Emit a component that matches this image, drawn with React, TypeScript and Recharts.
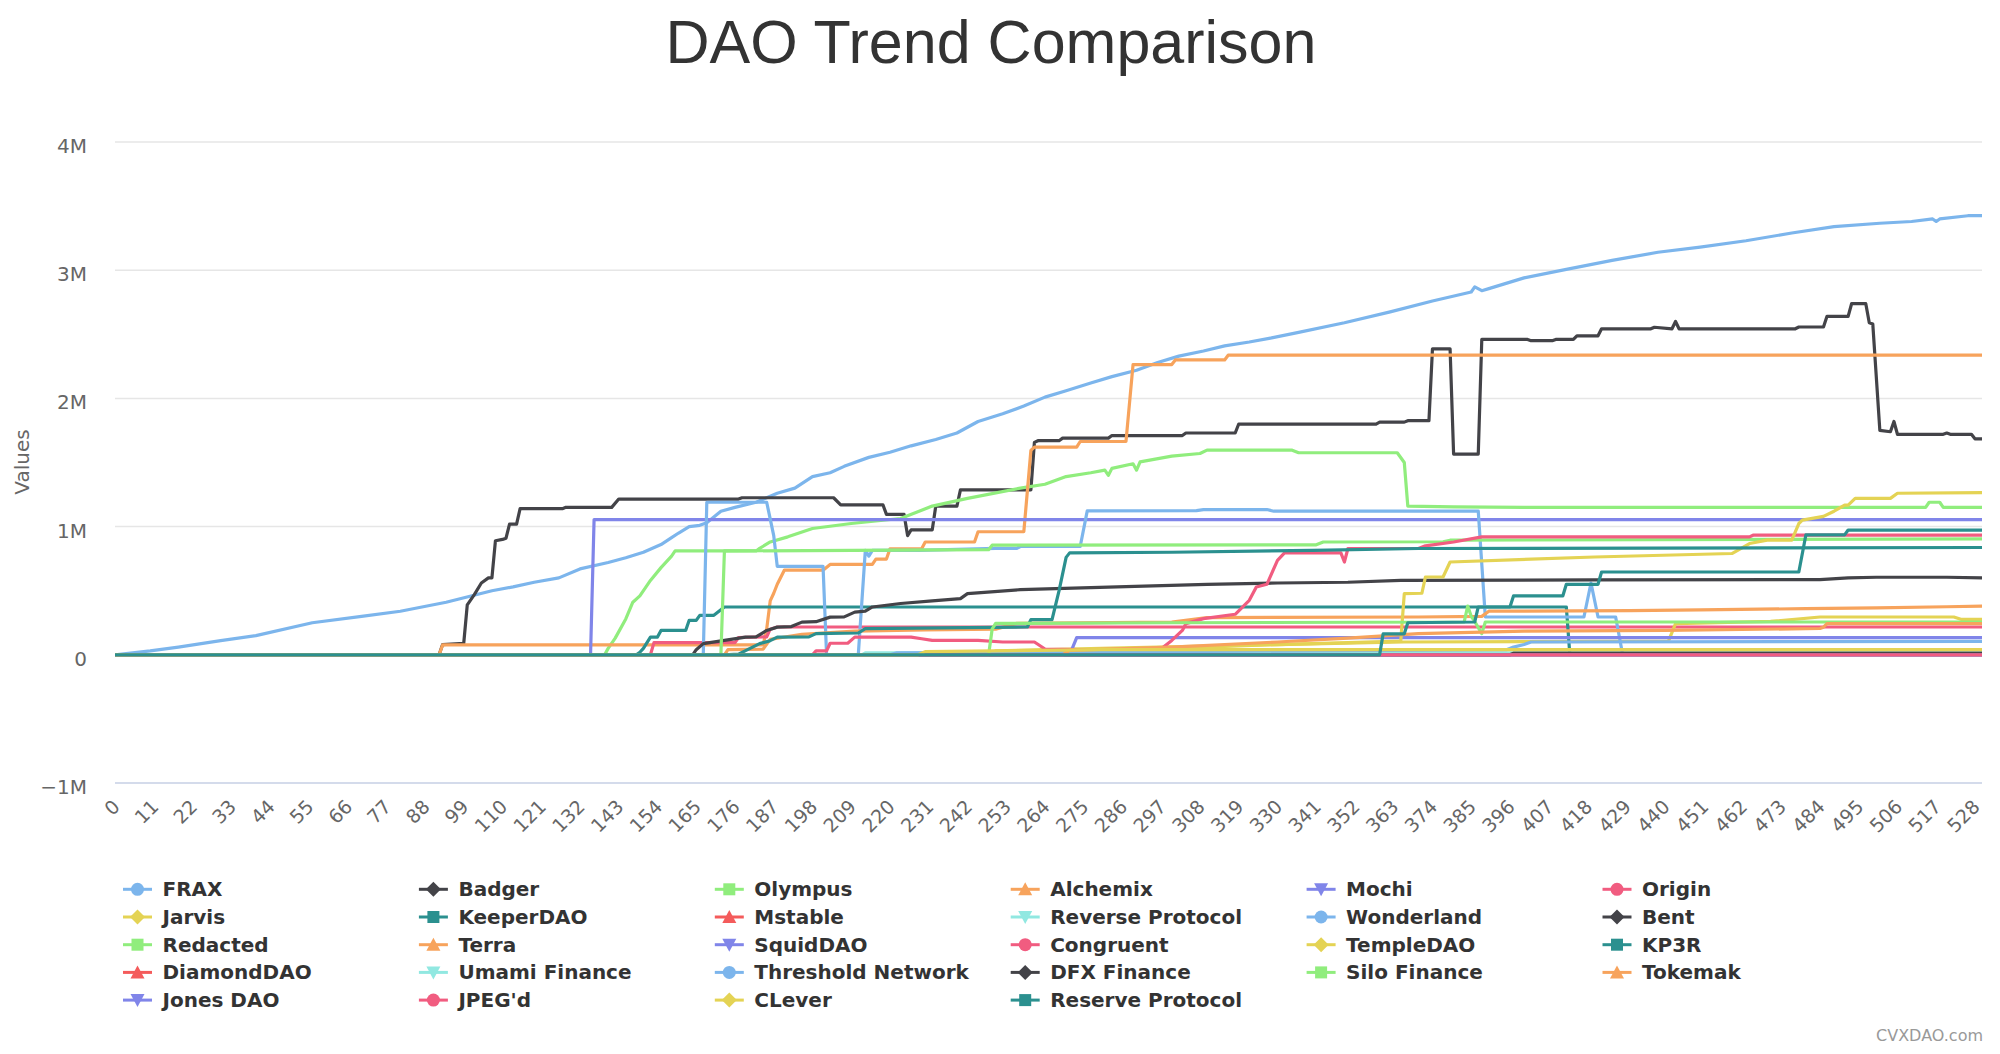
import React from 'react';
import { LineChart, Line, XAxis, YAxis, CartesianGrid } from 'recharts';

// x ticks (category index labels)
const X_TICKS = [0, 11, 22, 33, 44, 55, 66, 77, 88, 99, 110, 121, 132, 143, 154, 165, 176, 187, 198, 209, 220, 231, 242, 253, 264, 275, 286, 297, 308, 319, 330, 341, 352, 363, 374, 385, 396, 407, 418, 429, 440, 451, 462, 473, 484, 495, 506, 517, 528];
const Y_TICKS = [-1000000, 0, 1000000, 2000000, 3000000, 4000000];
const X_MAX = 530;

// Series vertices: [index, value in thousands]
const FRAX = [[0,0],[10,30],[18,60],[30,110],[40,150],[56,250],[70,300],[81,340],[94,410],[107,500],[113,530],[119,566],[126,600],[132,670],[140,720],[145,757],[150,800],[155,860],[158,914],[160,950],[163,1000],[166,1010],[168,1030],[172,1120],[176,1150],[182,1190],[188,1260],[193,1300],[198,1390],[203,1420],[207,1470],[214,1540],[220,1580],[226,1630],[233,1680],[239,1730],[245,1820],[252,1880],[258,1940],[264,2010],[270,2060],[277,2120],[283,2170],[290,2220],[296,2280],[302,2330],[309,2370],[315,2410],[322,2440],[328,2470],[336,2515],[349,2590],[362,2675],[374,2760],[385,2830],[386,2870],[388,2840],[390,2856],[400,2940],[412,3006],[425,3077],[438,3140],[450,3180],[463,3230],[476,3290],[488,3340],[501,3366],[510,3380],[516,3400],[517,3380],[518,3400],[526,3425],[530,3425]];
const BADGER = [[0,0],[92,0],[93,80],[99,90],[100,390],[102,470],[104,560],[106,600],[107,600],[108,890],[110,900],[111,910],[112,1020],[114,1020],[115,1140],[127,1140],[128,1150],[141,1150],[143,1215],[177,1215],[178,1225],[204,1225],[206,1170],[218,1170],[219,1095],[224,1095],[225,930],[226,975],[232,975],[233,1160],[239,1160],[240,1287],[260,1287],[261,1657],[262,1670],[268,1670],[269,1690],[282,1690],[283,1710],[303,1710],[304,1730],[318,1730],[319,1800],[358,1800],[359,1815],[366,1815],[367,1826],[373,1826],[374,2386],[379,2386],[380,1566],[387,1566],[388,2460],[401,2460],[402,2450],[408,2450],[409,2460],[414,2460],[415,2488],[421,2488],[422,2543],[436,2543],[437,2555],[442,2543],[443,2600],[444,2543],[477,2543],[478,2557],[485,2557],[486,2640],[492,2640],[493,2740],[497,2740],[498,2590],[499,2580],[501,1750],[504,1740],[505,1820],[506,1720],[519,1720],[520,1730],[521,1720],[527,1720],[528,1685],[530,1685]];
const OLYMPUS = [[0,0],[139,0],[140,50],[142,130],[145,280],[147,410],[149,460],[152,580],[155,680],[158,770],[159,810],[182,810],[183,830],[186,880],[191,920],[198,985],[209,1024],[223,1063],[232,1160],[242,1220],[257,1300],[264,1330],[270,1390],[277,1420],[281,1440],[282,1400],[283,1454],[289,1490],[290,1440],[291,1505],[300,1550],[308,1570],[310,1597],[334,1597],[336,1576],[364,1576],[366,1500],[367,1160],[380,1154],[400,1150],[514,1150],[515,1190],[518,1190],[519,1150],[530,1150]];
const ALCHEMIX = [[0,0],[92,0],[93,77],[184,77],[185,200],[186,420],[187,480],[188,550],[190,660],[201,660],[203,705],[215,705],[216,747],[219,747],[220,827],[229,827],[230,880],[244,880],[245,960],[258,960],[260,1594],[261,1620],[273,1620],[274,1664],[287,1664],[289,2264],[300,2264],[301,2300],[315,2300],[316,2337],[530,2337]];
const MOCHI = [[0,0],[135,0],[136,1055],[530,1055]];
const ORIGIN = [[0,0],[152,0],[153,95],[176,95],[177,135],[185,140],[186,200],[188,217],[530,217]];
const JARVIS = [[0,0],[248,0],[250,30],[280,50],[330,80],[366,100],[441,107],[443,243],[470,260],[484,295],[522,295],[524,277],[530,277]];
const KEEPERDAO = [[0,0],[148,0],[149,20],[150,50],[152,138],[154,138],[155,190],[162,190],[163,269],[165,269],[166,308],[170,308],[173,373],[412,373],[413,0],[530,0]];
const MSTABLE = [[0,0],[530,0]];
const REVERSE_PROTOCOL = [[0,0],[212,0],[213,15],[530,15]];
const WONDERLAND = [[0,0],[167,0],[168,1190],[185,1190],[187,930],[188,690],[201,690],[202,0],[211,0],[213,815],[214,770],[215,815],[228,815],[250,830],[256,830],[257,845],[274,845],[276,1123],[307,1125],[309,1133],[327,1133],[329,1120],[387,1120],[389,295],[417,295],[419,560],[421,295],[426,295],[428,0],[530,0]];
const BENT = [[0,0],[164,0],[165,40],[167,87],[173,112],[179,138],[182,140],[185,190],[188,216],[192,220],[195,255],[199,258],[203,294],[207,296],[210,333],[213,340],[215,373],[223,400],[232,420],[240,438],[242,477],[257,508],[287,532],[310,550],[330,560],[350,566],[365,580],[420,585],[484,586],[492,600],[500,605],[520,605],[530,600]];
const REDACTED = [[0,0],[172,0],[173,810],[248,820],[249,855],[341,858],[343,880],[377,882],[379,894],[530,905]];
const TERRA = [[0,0],[173,0],[174,40],[184,45],[186,120],[195,160],[210,185],[230,195],[250,200],[256,245],[300,256],[310,290],[370,295],[388,300],[390,340],[430,345],[450,350],[480,360],[500,366],[520,375],[530,380]];
const SQUIDDAO = [[0,0],[271,0],[273,134],[530,134]];
const CONGRUENT = [[0,0],[198,0],[199,30],[202,30],[203,90],[208,90],[210,138],[226,138],[229,125],[232,112],[245,112],[252,100],[261,100],[264,45],[288,34],[293,47],[297,47],[300,112],[303,190],[304,243],[309,282],[318,316],[322,425],[324,529],[327,550],[330,737],[332,795],[348,795],[349,724],[350,829],[370,829],[372,850],[380,880],[388,920],[464,920],[465,933],[530,933]];
const TEMPLEDAO = [[0,0],[248,0],[250,20],[290,40],[330,80],[365,107],[366,477],[371,480],[372,607],[377,607],[379,724],[420,763],[459,790],[464,868],[469,894],[476,894],[478,1024],[479,1050],[485,1080],[488,1120],[491,1167],[492,1167],[494,1220],[504,1220],[506,1260],[530,1265]];
const KP3R = [[0,0],[173,0],[177,5],[181,60],[183,87],[186,110],[188,138],[197,140],[199,165],[211,170],[213,204],[259,217],[260,274],[266,274],[268,500],[270,760],[271,795],[300,800],[340,815],[370,829],[530,837]];
const DIAMONDDAO = [[0,0],[530,0]];
const UMAMI_FINANCE = [[0,0],[530,0]];
const THRESHOLD_NETWORK = [[0,0],[220,0],[222,15],[300,25],[395,40],[397,60],[400,80],[402,100],[530,105]];
const DFX_FINANCE = [[0,0],[396,0],[397,13],[530,13]];
const SILO_FINANCE = [[0,0],[248,0],[249,200],[250,245],[300,250],[383,256],[384,380],[385,300],[386,260],[388,165],[389,256],[530,256]];
const TOKEMAK = [[0,0],[269,0],[271,35],[300,60],[330,100],[350,130],[370,165],[400,185],[440,190],[484,205],[485,215],[486,243],[530,243]];
const JONES_DAO = [[0,0],[530,0]];
const JPEGD = [[0,0],[530,0]];
const CLEVER = [[0,0],[228,0],[230,25],[280,40],[530,40]];
const RESERVE_PROTOCOL = [[0,0],[359,0],[360,164],[366,164],[367,250],[386,256],[387,373],[396,373],[397,459],[411,459],[412,550],[421,550],[422,646],[478,646],[480,935],[491,935],[492,973],[530,973]];

const NAMES = ['FRAX', 'Badger', 'Olympus', 'Alchemix', 'Mochi', 'Origin', 'Jarvis', 'KeeperDAO', 'Mstable', 'Reverse Protocol', 'Wonderland', 'Bent', 'Redacted', 'Terra', 'SquidDAO', 'Congruent', 'TempleDAO', 'KP3R', 'DiamondDAO', 'Umami Finance', 'Threshold Network', 'DFX Finance', 'Silo Finance', 'Tokemak', 'Jones DAO', "JPEG'd", 'CLever', 'Reserve Protocol'];
const POINTS = [FRAX, BADGER, OLYMPUS, ALCHEMIX, MOCHI, ORIGIN, JARVIS, KEEPERDAO, MSTABLE, REVERSE_PROTOCOL, WONDERLAND, BENT, REDACTED, TERRA, SQUIDDAO, CONGRUENT, TEMPLEDAO, KP3R, DIAMONDDAO, UMAMI_FINANCE, THRESHOLD_NETWORK, DFX_FINANCE, SILO_FINANCE, TOKEMAK, JONES_DAO, JPEGD, CLEVER, RESERVE_PROTOCOL];
const PALETTE = ['#7cb5ec', '#434348', '#90ed7d', '#f7a35c', '#8085e9', '#f15c80', '#e4d354', '#2b908f', '#f45b5b', '#91e8e1'];
const SYMBOLS = ['circle', 'diamond', 'square', 'triangle', 'triangle-down'];

const SERIES = NAMES.map((name, k) => ({
  name,
  color: PALETTE[k % PALETTE.length],
  symbol: SYMBOLS[k % SYMBOLS.length],
  data: POINTS[k].map(([x, v]) => ({ x, v: v * 1000 })),
}));

const fmtY = (v: number) => (v === 0 ? '0' : (v < 0 ? '\u2212' : '') + Math.abs(v / 1000000) + 'M');

const XTick = (props: any) => {
  const { x, payload } = props;
  const ax = x + 6;
  const ay = 808;
  return (
    <text x={ax} y={ay} transform={`rotate(-45 ${ax} ${ay})`} textAnchor="end" fill="#666" fontSize={19} fontFamily="DejaVu Sans, sans-serif">
      {payload.value}
    </text>
  );
};

const YTick = (props: any) => {
  const { y, payload } = props;
  return (
    <text x={87} y={y + 4} dy="0.35em" textAnchor="end" fill="#666" fontSize={20} fontFamily="DejaVu Sans, sans-serif">
      {fmtY(payload.value)}
    </text>
  );
};

const Marker = ({ symbol, cx, cy, color }: { symbol: string; cx: number; cy: number; color: string }) => {
  if (symbol === 'circle') return <circle cx={cx} cy={cy} r={6.5} fill={color} />;
  if (symbol === 'diamond') return <polygon points={`${cx},${cy - 7.5} ${cx + 7.5},${cy} ${cx},${cy + 7.5} ${cx - 7.5},${cy}`} fill={color} />;
  if (symbol === 'square') return <rect x={cx - 6} y={cy - 6} width={12} height={12} fill={color} />;
  if (symbol === 'triangle') return <polygon points={`${cx},${cy - 7} ${cx + 7},${cy + 6} ${cx - 7},${cy + 6}`} fill={color} />;
  return <polygon points={`${cx - 7},${cy - 6} ${cx + 7},${cy - 6} ${cx},${cy + 7}`} fill={color} />;
};

export default function App() {
  return (
    <div style={{ position: 'absolute', left: 0, top: 0, width: 2000, height: 1054, background: '#fff', overflow: 'hidden' }}>
      <div style={{ position: 'absolute', left: 0, top: 0 }}>
        <LineChart width={2000} height={843} margin={{ top: 142, right: 18, bottom: 0, left: 0 }}>
          <CartesianGrid vertical={false} stroke="#e6e6e6" strokeWidth={1.5} />
          <XAxis
            type="number"
            dataKey="x"
            domain={[0, X_MAX]}
            ticks={X_TICKS}
            interval={0}
            height={60}
            tickLine={false}
            axisLine={{ stroke: '#ccd6eb', strokeWidth: 1.5 }}
            tick={<XTick />}
            allowDataOverflow
          />
          <YAxis
            type="number"
            width={115}
            domain={[-1000000, 4000000]}
            ticks={Y_TICKS}
            interval={0}
            axisLine={false}
            tickLine={false}
            tick={<YTick />}
            allowDataOverflow
          />
          {SERIES.map((s) => (
            <Line
              key={s.name}
              data={s.data}
              dataKey="v"
              name={s.name}
              type="linear"
              stroke={s.color}
              strokeWidth={3.2}
              strokeLinejoin="round"
              strokeLinecap="round"
              dot={false}
              activeDot={false}
              isAnimationActive={false}
            />
          ))}
        </LineChart>
      </div>
      <svg width={2000} height={1054} style={{ position: 'absolute', left: 0, top: 0, pointerEvents: 'none' }}>
        <text x={991} y={63} textAnchor="middle" fontFamily="Liberation Sans, Arial, sans-serif" fontSize={61} fill="#333">
          DAO Trend Comparison
        </text>
        <text transform="translate(29,462) rotate(-90)" textAnchor="middle" fontFamily="DejaVu Sans, sans-serif" fontSize={20} fill="#666">
          Values
        </text>
        {SERIES.map((s, k) => {
          const col = k % 6;
          const row = Math.floor(k / 6);
          const x0 = 123 + col * 295.9;
          const cy = 889.3 + row * 27.7;
          return (
            <g key={s.name}>
              <line x1={x0} y1={cy} x2={x0 + 29} y2={cy} stroke={s.color} strokeWidth={3} />
              <Marker symbol={s.symbol} cx={x0 + 14.5} cy={cy} color={s.color} />
              <text x={x0 + 39.5} y={cy + 7} fontFamily="DejaVu Sans, sans-serif" fontWeight="bold" fontSize={20} fill="#333">
                {s.name}
              </text>
            </g>
          );
        })}
        <text x={1983} y={1041} textAnchor="end" fontFamily="DejaVu Sans, sans-serif" fontSize={16} fill="#999">
          CVXDAO.com
        </text>
      </svg>
    </div>
  );
}
